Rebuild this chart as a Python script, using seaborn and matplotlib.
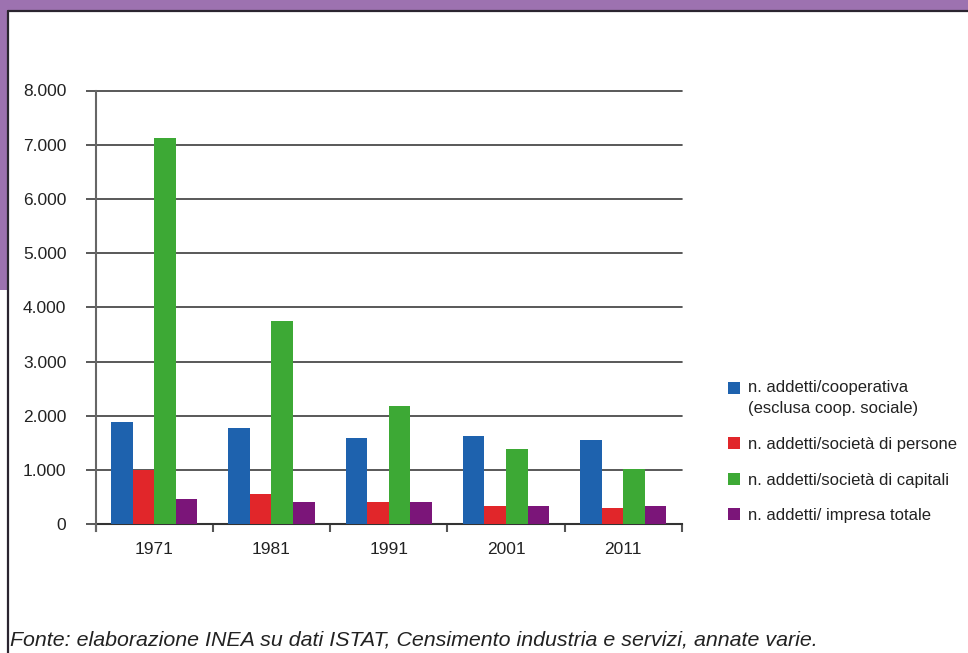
import matplotlib
matplotlib.use("Agg")
import matplotlib.pyplot as plt
from matplotlib.patches import Rectangle, Patch
from matplotlib.lines import Line2D
from matplotlib.legend_handler import HandlerPatch
from matplotlib.ticker import FuncFormatter, FixedLocator
import seaborn as sns
import pandas as pd

years = ["1971", "1981", "1991", "2001", "2011"]
series = [
    "n. addetti/cooperativa\n(esclusa coop. sociale)",
    "n. addetti/società di persone",
    "n. addetti/società di capitali",
    "n. addetti/ impresa totale",
]
coop = [1895, 1780, 1597, 1634, 1560]
soc_persone = [1005, 565, 418, 344, 307]
soc_capitali = [7127, 3757, 2173, 1381, 1026]
impresa_totale = [460, 418, 418, 344, 344]
colors = ["#1e62ae", "#e1262a", "#3da935", "#7b1579"]
source = "Fonte: elaborazione INEA su dati ISTAT, Censimento industria e servizi, annate varie."

sns.set_theme(style="white")
plt.rcParams["font.family"] = ["Liberation Sans", "DejaVu Sans"]

rows = []
for name, vals in zip(series, [coop, soc_persone, soc_capitali, impresa_totale]):
    for y, v in zip(years, vals):
        rows.append({"anno": y, "serie": name, "valore": v})
df = pd.DataFrame(rows)

W, H = 968, 653
fig = plt.figure(figsize=(W / 100, H / 100), dpi=100)
fig.patch.set_facecolor("white")

# purple frame bands and the dark panel border
purple = "#9d72b0"
fig.add_artist(Rectangle((0, 1 - 10 / H), 1, 10 / H, transform=fig.transFigure,
                         facecolor=purple, edgecolor="none", zorder=0))
fig.add_artist(Rectangle((0, 1 - 290 / H), 7 / W, 290 / H, transform=fig.transFigure,
                         facecolor=purple, edgecolor="none", zorder=0))
fig.add_artist(Line2D([7.5 / W, 1], [1 - 10.5 / H, 1 - 10.5 / H], transform=fig.transFigure,
                      color="#2b2530", lw=1.6, zorder=1))
fig.add_artist(Line2D([7.5 / W, 7.5 / W], [0, 1 - 10.5 / H], transform=fig.transFigure,
                      color="#2b2530", lw=1.6, zorder=1))

ax = fig.add_axes([95.5 / W, 1 - 524.3 / H, (682 - 95.5) / W, (524.3 - 90.5) / H])
sns.barplot(data=df, x="anno", y="valore", hue="serie", palette=colors,
            width=0.735, gap=0, ax=ax, saturation=1, edgecolor="none",
            legend=False, zorder=3)

ax.set_ylim(0, 8000)
ax.set_xlim(-0.5, 4.5)
ax.set_yticks(range(0, 8001, 1000))
ax.yaxis.set_major_formatter(FuncFormatter(lambda v, p: f"{int(v):,}".replace(",", ".")))
ax.grid(axis="y", color="#3c3c3c", lw=1.2, zorder=1)
ax.set_axisbelow(True)
for gl in ax.get_ygridlines():
    gl.set_clip_on(False)

# boundary ticks on the category axis, labels centered on each group
ax.xaxis.set_major_locator(FixedLocator([-0.5, 0.5, 1.5, 2.5, 3.5, 4.5]))
ax.xaxis.set_minor_locator(FixedLocator(range(len(years))))
ax.set_xticklabels([], minor=False)
ax.set_xticklabels(years, minor=True)
ax.tick_params(axis="x", which="major", length=6, width=1.5, color="#555555", direction="out", bottom=True)
ax.tick_params(axis="x", which="minor", length=0, pad=12.5, labelsize=12.5, labelcolor="#222222")
ax.tick_params(axis="y", length=7, width=1.2, color="#3c3c3c", direction="out", left=True,
               pad=14, labelsize=12.5, labelcolor="#222222")
ax.set_xlabel("")
ax.set_ylabel("")

for s in ["top", "right"]:
    ax.spines[s].set_visible(False)
ax.spines["left"].set_color("#666666")
ax.spines["left"].set_linewidth(1.5)
ax.spines["bottom"].set_color("#333333")
ax.spines["bottom"].set_linewidth(1.5)
ax.spines["left"].set_bounds(-120, 8000)
ax.spines["left"].set_zorder(4)


class TopLineHandler(HandlerPatch):
    """Square handle raised so it sits beside the first line of a two-line label."""

    def __init__(self, shift, **kw):
        super().__init__(**kw)
        self.shift = shift

    def _create_patch(self, legend, orig_handle, xdescent, ydescent, width, height, fontsize):
        return Rectangle(xy=(-xdescent, -ydescent + self.shift), width=width, height=height)


handles = [Patch(facecolor=c, edgecolor="none") for c in colors]
leg = ax.legend(handles, series, loc="upper left", bbox_to_anchor=(728 / W, 1 - 380 / H),
                bbox_transform=fig.transFigure, frameon=False, fontsize=12,
                handlelength=0.72, handleheight=0.72, handletextpad=0.48, labelspacing=1.24,
                labelcolor="#222222", borderaxespad=0, borderpad=0,
                handler_map={handles[0]: TopLineHandler(shift=7.7)})
for t in leg.get_texts():
    t.set_linespacing(1.52)

fig.text(10 / W, 1 - 645 / H, source, fontsize=15.4, style="italic", color="#222222",
         ha="left", va="baseline")

fig.savefig("out.png", dpi=100)
